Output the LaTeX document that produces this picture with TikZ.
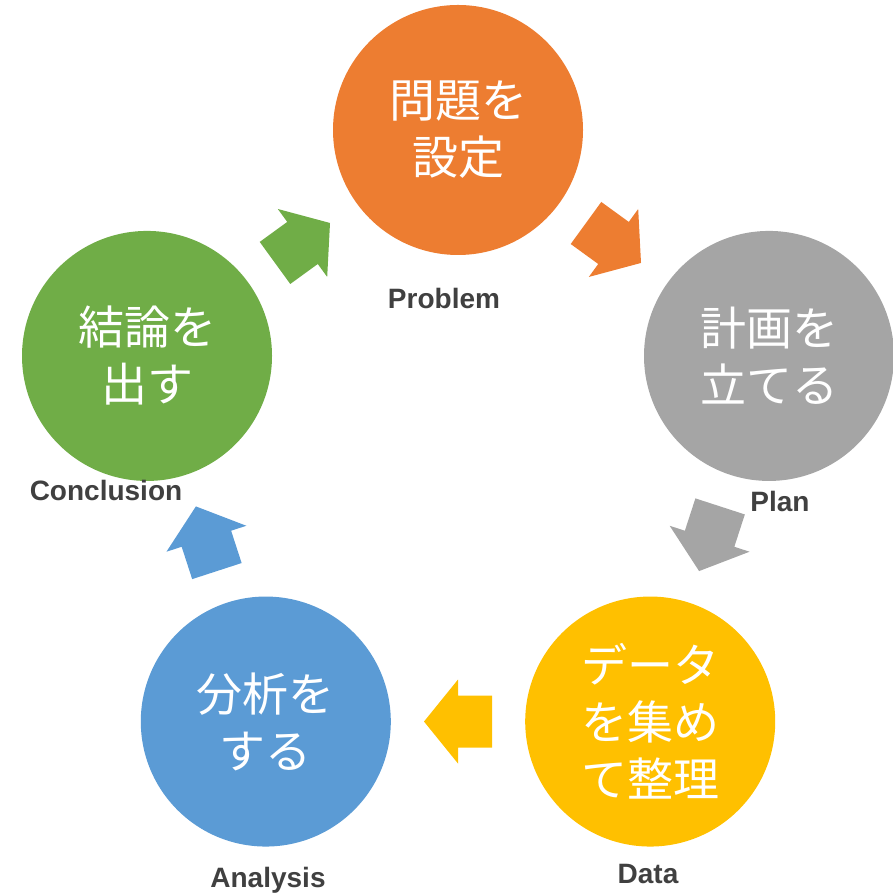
\documentclass[tikz,border=0pt]{standalone}
\usepackage{fontspec}
\setmainfont{Liberation Sans}
\newfontfamily\jp{Noto Sans CJK JP}
\usetikzlibrary{calc}
\definecolor{cOrange}{HTML}{ED7D31}
\definecolor{cGray}{HTML}{A5A5A5}
\definecolor{cYellow}{HTML}{FFC000}
\definecolor{cBlue}{HTML}{5B9BD5}
\definecolor{cGreen}{HTML}{70AD47}
\definecolor{cLabel}{HTML}{404040}
\tikzset{
  stage/.style={circle, fill=#1, minimum size=250pt, inner sep=0pt, text=white, align=center,
    font={\jp\fontsize{46pt}{57pt}\selectfont}},
  tag/.style={text=cLabel, font={\bfseries\fontsize{28pt}{30pt}\selectfont}, inner sep=0pt},
  blockarrow/.pic={\fill (-34,-26) -- (0,-26) -- (0,-42) -- (34,0) -- (0,42) -- (0,26) -- (-34,26) -- cycle;}
}
\begin{document}
\begin{tikzpicture}[x=1pt,y=1pt]
\useasboundingbox (0,0) rectangle (892,896);
\coordinate (c) at (458,439);
\node[stage=cOrange] (prob) at ($(c)+(90:327)$) {問題を\\設定};
\node[stage=cGray]   (plan) at ($(c)+(18:327)$) {計画を\\立てる};
\node[stage=cYellow] (data) at ($(c)+(-54:327)$) {データ\\を集め\\て整理};
\node[stage=cBlue]   (anal) at ($(c)+(-126:327)$) {分析を\\する};
\node[stage=cGreen]  (conc) at ($(c)+(162:327)$) {結論を\\出す};
\node[tag] (lprob) at (444,597) {Problem};
\node[tag] (lplan) at (780,395) {Plan};
\node[tag] (ldata) at (648,22) {Data};
\node[tag] (lanal) at (268,16) {Analysis};
\node[tag] (lconc) at (106,406) {Conclusion};
\pic[fill=cOrange, rotate=-36] at ($(prob)!0.5!(plan)$) {blockarrow};
\pic[fill=cGray, rotate=-108] at ($(plan)!0.5!(data)$) {blockarrow};
\pic[fill=cYellow, rotate=180] at ($(data)!0.5!(anal)$) {blockarrow};
\pic[fill=cBlue, rotate=108] at ($(anal)!0.5!(conc)$) {blockarrow};
\pic[fill=cGreen, rotate=36] at ($(conc)!0.5!(prob)$) {blockarrow};
\end{tikzpicture}
\end{document}
